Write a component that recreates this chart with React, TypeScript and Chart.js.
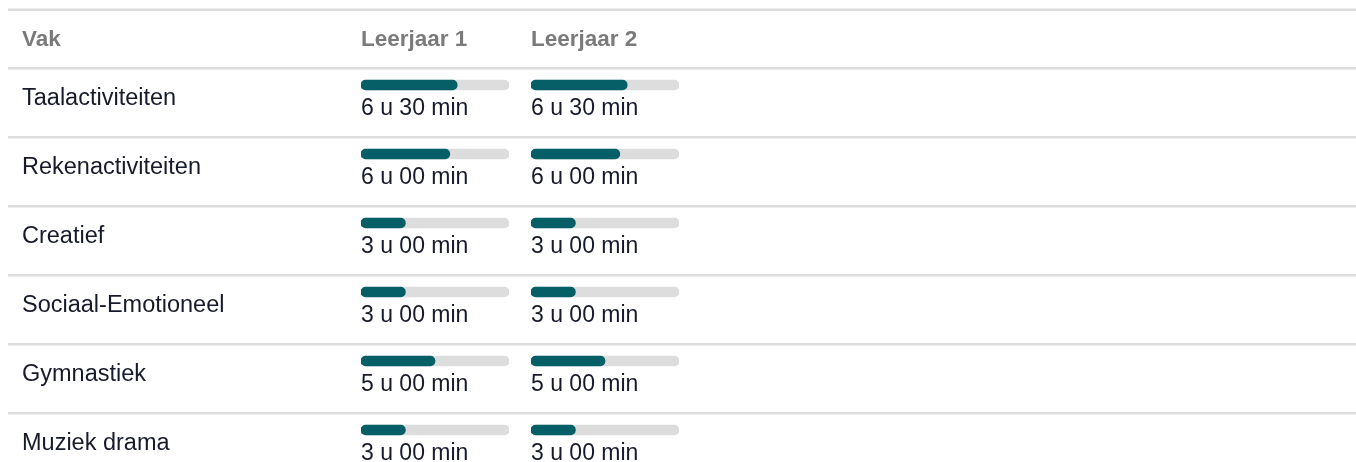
import React, { useEffect, useRef } from "react";
import { Chart, registerables } from "chart.js";

Chart.register(...registerables);

const subjects = [
  "Taalactiviteiten",
  "Rekenactiviteiten",
  "Creatief",
  "Sociaal-Emotioneel",
  "Gymnastiek",
  "Muziek drama",
];
const headerSubject = "Vak";
const columnTitles = ["Leerjaar 1", "Leerjaar 2"];
// minutes per week
const leerjaar1 = [390, 360, 180, 180, 300, 180];
const leerjaar2 = [390, 360, 180, 180, 300, 180];
const maxMinutes = 600;

const FONT = "'Liberation Sans', Arial, Helvetica, sans-serif";
const W = 1356;
const H = 460;
const TEAL = "#065e66";
const TRACK = "#dddddd";
const LINE = "#dddddd";
const TEXT = "#171a2b";
const HEAD = "#7a7a7a";

function fmt(m: number) {
  const h = Math.floor(m / 60);
  const mm = m % 60;
  return `${h} u ${mm.toString().padStart(2, "0")} min`;
}

function makeChart(
  canvas: HTMLCanvasElement,
  values: number[],
  left: number,
  title: string,
  drawTable: boolean
) {
  const plugin = {
    id: "tableText" + left,
    beforeDatasetsDraw(chart: any) {
      const ctx = chart.ctx as CanvasRenderingContext2D;
      const y = chart.scales.y;
      const area = chart.chartArea;
      const full = Math.max(chart.width, ctx.canvas.width) + 20;
      ctx.save();
      if (drawTable) {
        ctx.fillStyle = LINE;
        ctx.fillRect(0, 0.5, full, 2.5);
        subjects.forEach((_, i) => {
          const c = y.getPixelForValue(i);
          ctx.fillRect(0, c - 18, full, 2.5);
        });
        ctx.fillStyle = HEAD;
        ctx.font = `bold 22.5px ${FONT}`;
        ctx.textBaseline = "alphabetic";
        ctx.fillText(headerSubject, 14, 38);
        ctx.fillStyle = TEXT;
        ctx.font = `23.5px ${FONT}`;
        subjects.forEach((s, i) => {
          const c = y.getPixelForValue(i);
          ctx.fillText(s, 14, c + 20);
        });
      }
      ctx.fillStyle = HEAD;
      ctx.font = `bold 22.5px ${FONT}`;
      ctx.fillText(title, area.left, 38);
      ctx.fillStyle = TEXT;
      ctx.font = `23px ${FONT}`;
      values.forEach((v, i) => {
        const c = y.getPixelForValue(i);
        ctx.fillText(fmt(v), area.left, c + 30);
      });
      ctx.restore();
    },
  };

  return new Chart(canvas, {
    type: "bar",
    data: {
      labels: subjects,
      datasets: [
        {
          data: values,
          backgroundColor: TEAL,
          barThickness: 10,
          borderRadius: 5,
          borderSkipped: false,
          grouped: false,
          order: 1,
        },
        {
          data: subjects.map(() => maxMinutes),
          backgroundColor: TRACK,
          barThickness: 10,
          borderRadius: 5,
          borderSkipped: false,
          grouped: false,
          order: 2,
        },
      ],
    },
    options: {
      indexAxis: "y",
      animation: false,
      responsive: false,
      maintainAspectRatio: false,
      devicePixelRatio: 1,
      layout: {
        padding: { left: left, right: W - left - 148, top: 42.5, bottom: H - 456.5 },
      },
      scales: {
        x: { display: false, min: 0, max: maxMinutes },
        y: { display: false, offset: true },
      },
      plugins: { legend: { display: false }, tooltip: { enabled: false } },
    },
    plugins: [plugin],
  } as any);
}

export default function App() {
  const ref1 = useRef<HTMLCanvasElement>(null);
  const ref2 = useRef<HTMLCanvasElement>(null);
  useEffect(() => {
    document.body.style.margin = "8px 0 0 8px";
    document.documentElement.style.overflow = "hidden";
    const c1 = makeChart(ref1.current!, leerjaar1, 353, columnTitles[0], true);
    const c2 = makeChart(ref2.current!, leerjaar2, 523, columnTitles[1], false);
    return () => {
      c1.destroy();
      c2.destroy();
    };
  }, []);
  return (
    <div style={{ position: "relative", width: W, height: 454, overflow: "hidden" }}>
      <canvas ref={ref1} width={W} height={H} style={{ position: "absolute", left: 0, top: 0, width: W, height: H }} />
      <canvas ref={ref2} width={W} height={H} style={{ position: "absolute", left: 0, top: 0, width: W, height: H }} />
    </div>
  );
}
